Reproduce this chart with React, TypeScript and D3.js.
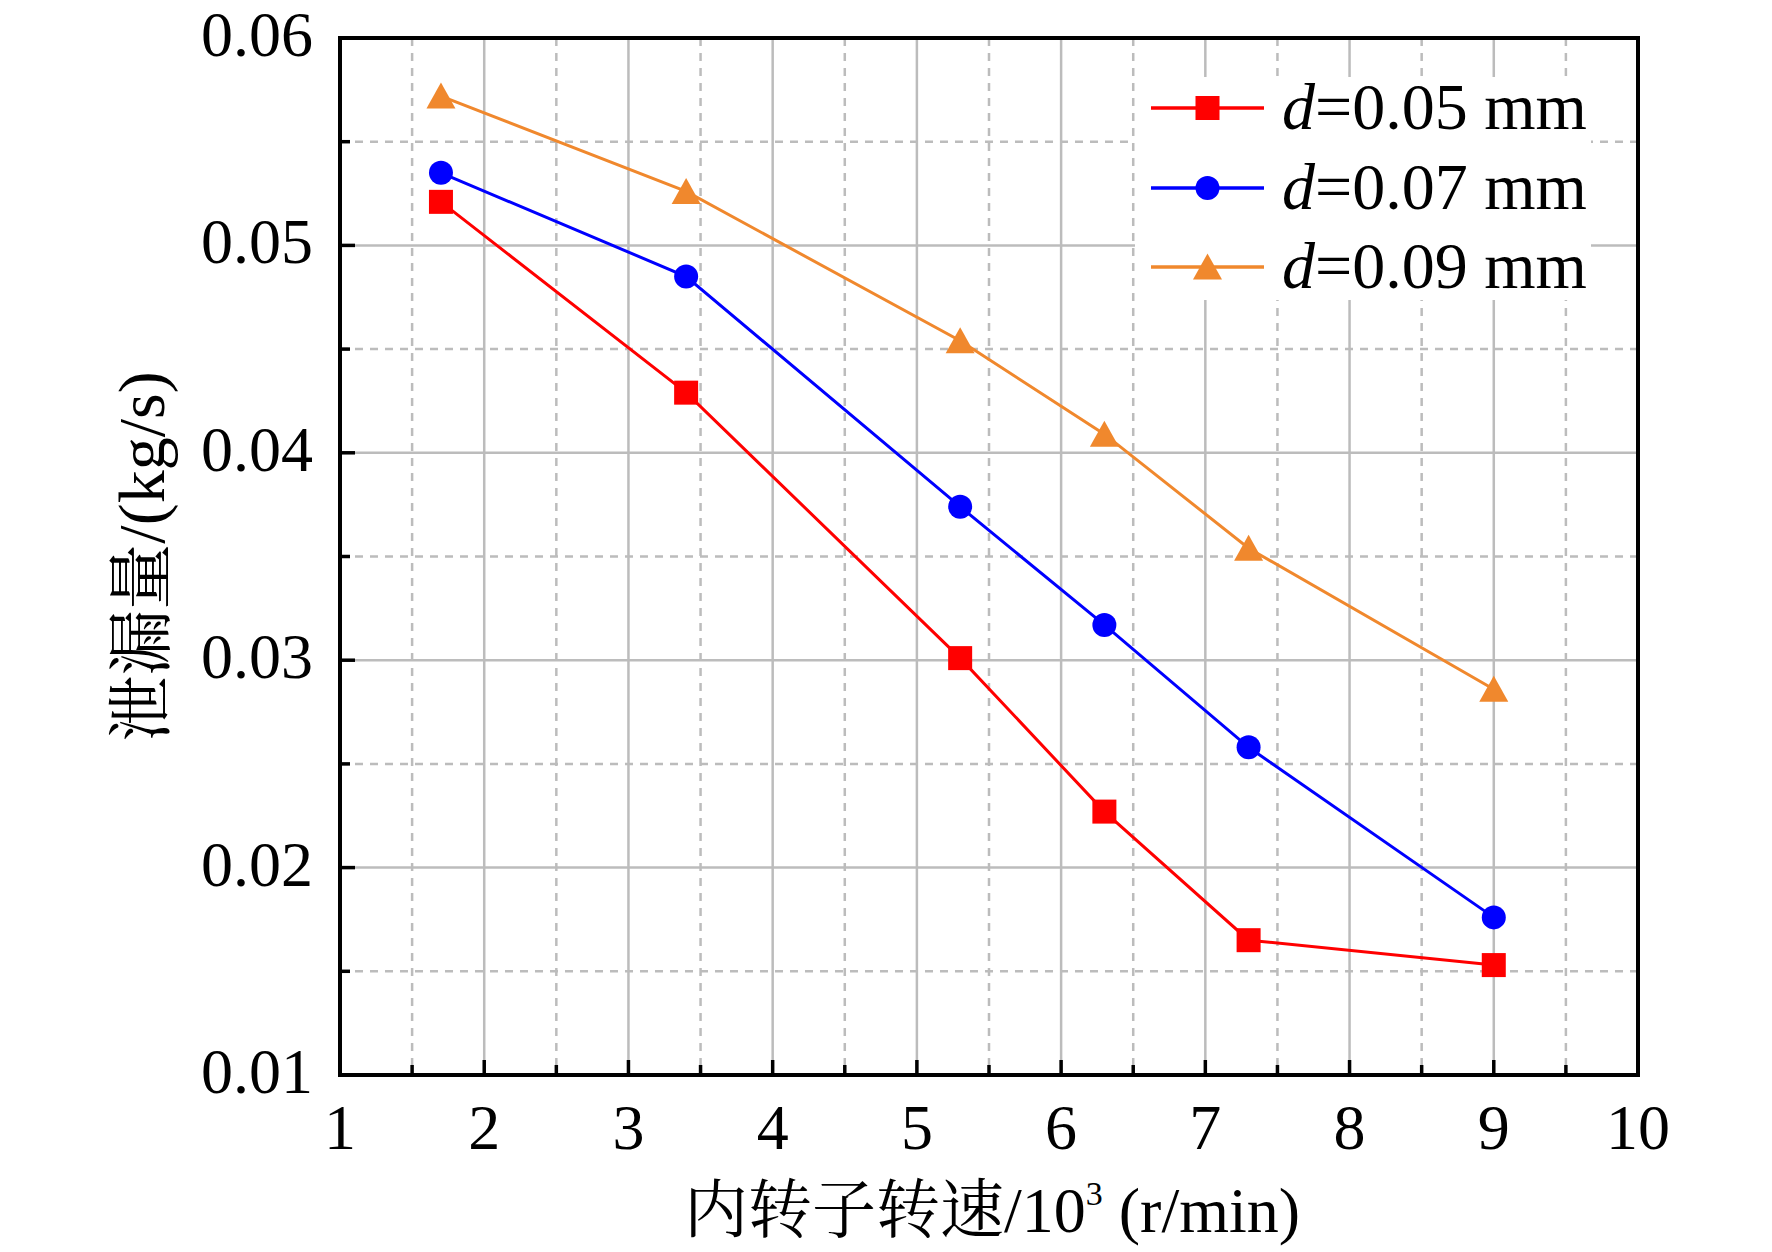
import React from "react";
import * as d3 from "d3";

// rotor speed, 10^3 r/min
const speeds = [1.7, 3.4, 5.3, 6.3, 7.3, 9.0];

// leakage, kg/s
const leakD005 = [0.0521, 0.0429, 0.0301, 0.0227, 0.0165, 0.0153];
const leakD007 = [0.0535, 0.0485, 0.0374, 0.0317, 0.0258, 0.0176];
const leakD009 = [0.0572, 0.0526, 0.0454, 0.0409, 0.0354, 0.0286];

const seriesNames = ["0.05 mm", "0.07 mm", "0.09 mm"];
const seriesColors = ["#ff0000", "#0000ff", "#f0882d"];
const seriesShapes = ["square", "circle", "triangle"];

const xTicks = [1, 2, 3, 4, 5, 6, 7, 8, 9, 10];
const xMinor = [1.5, 2.5, 3.5, 4.5, 5.5, 6.5, 7.5, 8.5, 9.5];
const yTicks = [0.01, 0.02, 0.03, 0.04, 0.05, 0.06];
const yMinor = [0.015, 0.025, 0.035, 0.045, 0.055];

const W = 1772;
const H = 1252;
const margin = { top: 38, right: 134, bottom: 177, left: 340 };
const font = "'Liberation Serif', 'Times New Roman', 'Noto Serif CJK SC', 'Noto Sans CJK SC', serif";

const Marker: React.FC<{ shape: string; cx: number; cy: number; color: string }> = ({
  shape,
  cx,
  cy,
  color,
}) => {
  if (shape === "square")
    return <rect x={cx - 12} y={cy - 12} width={24} height={24} fill={color} />;
  if (shape === "circle") return <circle cx={cx} cy={cy} r={12} fill={color} />;
  return (
    <path
      d={`M${cx},${cy - 13.5}L${cx + 14.5},${cy + 12.5}L${cx - 14.5},${cy + 12.5}Z`}
      fill={color}
    />
  );
};

export default function App() {
  const series = [leakD005, leakD007, leakD009];
  const innerW = W - margin.left - margin.right;
  const innerH = H - margin.top - margin.bottom;

  const x = d3.scaleLinear().domain([1, 10]).range([margin.left, margin.left + innerW]);
  const y = d3.scaleLinear().domain([0.01, 0.06]).range([margin.top + innerH, margin.top]);

  const line = d3
    .line<number>()
    .x((_, i) => x(speeds[i]))
    .y((d) => y(d));

  const left = x(1);
  const right = x(10);
  const top = y(0.06);
  const bottom = y(0.01);
  const gridColor = "#bcbcbc";

  // legend placement
  const legX0 = 1151;
  const legX1 = 1264;
  const legRows = [108, 188, 267];

  return (
    <div style={{ position: "absolute", left: 0, top: 0 }}>
      <svg width={W} height={H} style={{ display: "block", background: "#fff" }} fontFamily={font}>
        {/* minor grid */}
        {xMinor.map((t) => (
          <line key={"xm" + t} x1={x(t)} x2={x(t)} y1={top} y2={bottom}
            stroke={gridColor} strokeWidth={2.5} strokeDasharray="8,7" />
        ))}
        {yMinor.map((t) => (
          <line key={"ym" + t} x1={left} x2={right} y1={y(t)} y2={y(t)}
            stroke={gridColor} strokeWidth={2.5} strokeDasharray="8,7" />
        ))}
        {/* major grid */}
        {xTicks.slice(1, -1).map((t) => (
          <line key={"xg" + t} x1={x(t)} x2={x(t)} y1={top} y2={bottom}
            stroke={gridColor} strokeWidth={2.5} />
        ))}
        {yTicks.slice(1, -1).map((t) => (
          <line key={"yg" + t} x1={left} x2={right} y1={y(t)} y2={y(t)}
            stroke={gridColor} strokeWidth={2.5} />
        ))}

        {/* legend background hides grid */}
        <rect x={1135} y={77} width={456} height={223} fill="#fff" />

        {/* data */}
        {series.map((s, k) => (
          <g key={"s" + k}>
            <path d={line(s) ?? ""} fill="none" stroke={seriesColors[k]} strokeWidth={3} />
            {s.map((v, i) => (
              <Marker key={i} shape={seriesShapes[k]} cx={x(speeds[i])} cy={y(v)} color={seriesColors[k]} />
            ))}
          </g>
        ))}

        {/* ticks (inward) */}
        {xTicks.map((t) => (
          <line key={"xt" + t} x1={x(t)} x2={x(t)} y1={bottom} y2={bottom - 15} stroke="#000" strokeWidth={3.5} />
        ))}
        {xMinor.map((t) => (
          <line key={"xmt" + t} x1={x(t)} x2={x(t)} y1={bottom} y2={bottom - 10} stroke="#000" strokeWidth={3.5} />
        ))}
        {yTicks.map((t) => (
          <line key={"yt" + t} x1={left} x2={left + 15} y1={y(t)} y2={y(t)} stroke="#000" strokeWidth={3.5} />
        ))}
        {yMinor.map((t) => (
          <line key={"ymt" + t} x1={left} x2={left + 10} y1={y(t)} y2={y(t)} stroke="#000" strokeWidth={3.5} />
        ))}

        {/* frame */}
        <rect x={left} y={top} width={right - left} height={bottom - top} fill="none" stroke="#000" strokeWidth={4} />

        {/* tick labels */}
        {xTicks.map((t) => (
          <text key={"xl" + t} x={x(t)} y={bottom + 74} textAnchor="middle" fontSize={64}>
            {t}
          </text>
        ))}
        {yTicks.map((t) => (
          <text key={"yl" + t} x={left - 27} y={y(t) + 18} textAnchor="end" fontSize={64}>
            {d3.format(".2f")(t)}
          </text>
        ))}

        {/* axis titles */}
        <text x={(left + right) / 2 + 3} y={1232} textAnchor="middle" fontSize={64}>
          内转子转速/10
          <tspan fontSize={34} dy={-27}>3</tspan>
          <tspan dy={27}> (r/min)</tspan>
        </text>
        <text transform={`translate(164,${(top + bottom) / 2}) rotate(-90)`} textAnchor="middle" fontSize={66}>
          泄漏量/(kg/s)
        </text>

        {/* legend */}
        {seriesNames.map((n, k) => (
          <g key={"lg" + k}>
            <line x1={legX0} x2={legX1} y1={legRows[k]} y2={legRows[k]} stroke={seriesColors[k]} strokeWidth={3.5} />
            <Marker shape={seriesShapes[k]} cx={(legX0 + legX1) / 2} cy={legRows[k]} color={seriesColors[k]} />
            <text x={1282} y={legRows[k] + 21} fontSize={66}>
              <tspan fontStyle="italic">d</tspan>={n}
            </text>
          </g>
        ))}
      </svg>
    </div>
  );
}
